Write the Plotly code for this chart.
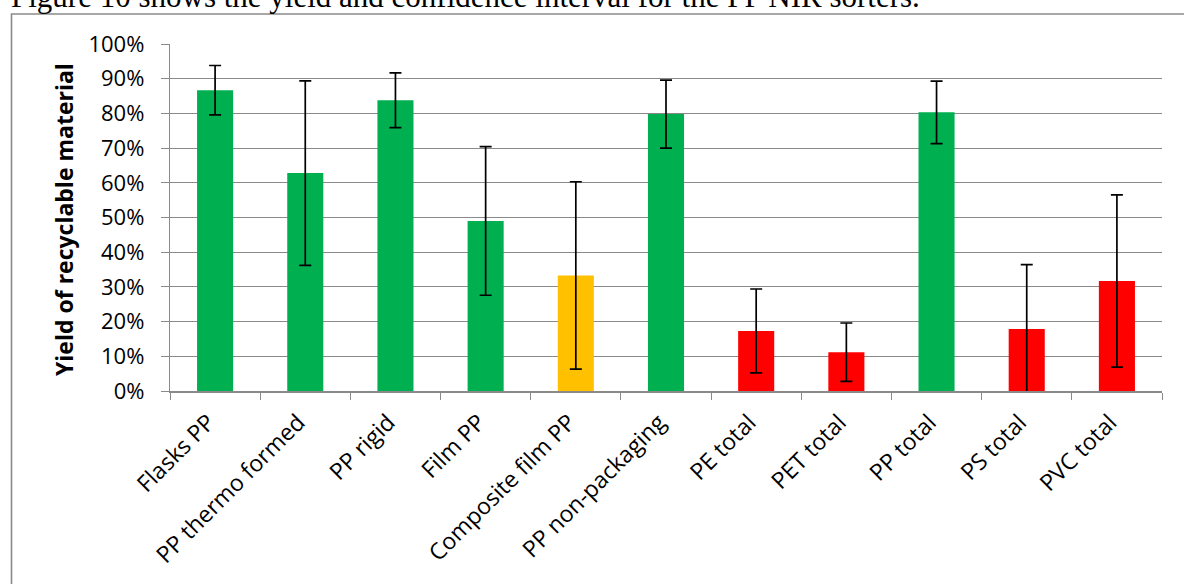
import plotly.graph_objects as go

categories = ["Flasks PP", "PP thermo formed", "PP rigid", "Film PP", "Composite film PP",
              "PP non-packaging", "PE total", "PET total", "PP total", "PS total", "PVC total"]
yield_values = [0.867, 0.628, 0.838, 0.490, 0.333, 0.798, 0.173, 0.112, 0.803, 0.179, 0.317]
ci_half_width = [0.071, 0.266, 0.079, 0.214, 0.270, 0.098, 0.121, 0.084, 0.090, 0.185, 0.248]
bar_colors = ["#00B050", "#00B050", "#00B050", "#00B050", "#FFC000",
              "#00B050", "#FF0000", "#FF0000", "#00B050", "#FF0000", "#FF0000"]
y_tick_values = [i / 10 for i in range(11)]

W, H = 1184, 584
L, R, T, B = 170, 22, 44, 193
pw, ph = W - L - R, H - T - B

def px(x):
    return (x - L) / pw

def py(y):
    return 1 + (T - y) / ph

fig = go.Figure(go.Bar(
    x=categories, y=yield_values,
    marker=dict(color=bar_colors, line=dict(width=0)),
    error_y=dict(type="data", array=ci_half_width, symmetric=True,
                 color="black", thickness=1.7, width=6),
    cliponaxis=True,
))

grid = "#8a8a8a"
fig.update_layout(
    width=W, height=H,
    margin=dict(l=L, r=R, t=T, b=B),
    plot_bgcolor="white", paper_bgcolor="white",
    bargap=0.6, showlegend=False,
    font=dict(family="Open Sans", color="black"),
    xaxis=dict(
        tickangle=-45, tickfont=dict(size=23, family="Open Sans"),
        ticklabelstandoff=7, ticklabelshift=-7,
        showline=True, linecolor=grid, linewidth=1.6,
        ticks="outside", tickson="boundaries", ticklen=7, tickcolor=grid, tickwidth=1.4,
        showgrid=False,
    ),
    yaxis=dict(
        range=[0, 1], tickvals=y_tick_values, tickformat=".0%",
        tickfont=dict(size=22, family="Open Sans"),
        ticklabelstandoff=12,
        showline=True, linecolor=grid, linewidth=1.4,
        ticks="outside", ticklen=8, tickcolor=grid, tickwidth=1.4,
        showgrid=True, gridcolor=grid, gridwidth=1.4,
        zeroline=False,
    ),
    shapes=[dict(type="rect", xref="paper", yref="paper",
                 x0=px(11.5), x1=px(W + 20), y0=py(H + 20), y1=py(14),
                 line=dict(color="#8a8a8a", width=1.6), fillcolor="rgba(0,0,0,0)",
                 layer="below")],
    annotations=[
        dict(text="<b>Yield of recyclable material</b>", textangle=-90,
             xref="paper", yref="paper", x=px(64), y=py(220),
             xanchor="center", yanchor="middle", showarrow=False,
             font=dict(size=23, family="Open Sans")),
        dict(text="Figure 10 shows the yield and confidence interval for the PP NIR sorters.",
             xref="paper", yref="paper", x=px(9), y=py(-3.5),
             xanchor="left", yanchor="middle", showarrow=False,
             font=dict(size=31, family="Liberation Serif")),
    ],
)

fig.write_html("out.html", config={"displayModeBar": False},
               post_script="document.body.style.margin='0';document.body.style.overflow='hidden';")
